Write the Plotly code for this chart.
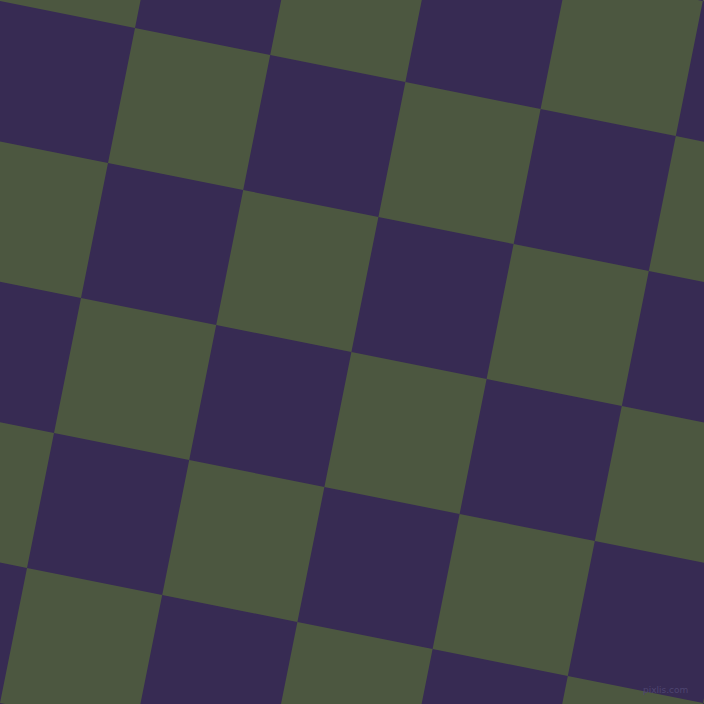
import plotly.graph_objects as go

# Checkerboard lattice definition (pixel units of the 704x704 canvas)
origin = [135, 28]          # a lattice corner
u_step = [135.2, 27]        # one cell along the "row" direction
v_step = [-27, 135]         # one cell along the "column" direction
col_index = list(range(-3, 8))
row_index = list(range(-3, 8))
colors = ["#4c5740", "#372b53"]  # green (even parity), purple (odd parity)

xs, ys = [], []
for i in col_index:
    for j in row_index:
        if (i + j) % 2 != 0:
            continue
        corners = []
        for di, dj in [(0, 0), (1, 0), (1, 1), (0, 1), (0, 0)]:
            cx = origin[0] + (i + di) * u_step[0] + (j + dj) * v_step[0]
            cy = origin[1] + (i + di) * u_step[1] + (j + dj) * v_step[1]
            corners.append((cx, cy))
        xs += [c[0] for c in corners] + [None]
        ys += [c[1] for c in corners] + [None]

fig = go.Figure()
fig.add_trace(go.Scatter(x=xs, y=ys, mode="lines", fill="toself",
                         fillcolor=colors[0], line=dict(width=0, color=colors[0]),
                         hoverinfo="skip", showlegend=False))
fig.add_annotation(x=690, y=690, text="pixlis.com", showarrow=False,
                   xref="x", yref="y", xanchor="right", yanchor="middle",
                   font=dict(family="DejaVu Sans", size=9, color="#4e4570"))
fig.update_layout(width=704, height=704, margin=dict(l=0, r=0, t=0, b=0),
                  paper_bgcolor=colors[1], plot_bgcolor=colors[1],
                  xaxis=dict(range=[0, 704], visible=False, fixedrange=True),
                  yaxis=dict(range=[704, 0], visible=False, fixedrange=True),
                  showlegend=False)
fig.write_html("out.html", config={"displayModeBar": False},
               post_script="document.body.style.margin='0';document.body.style.overflow='hidden';")
